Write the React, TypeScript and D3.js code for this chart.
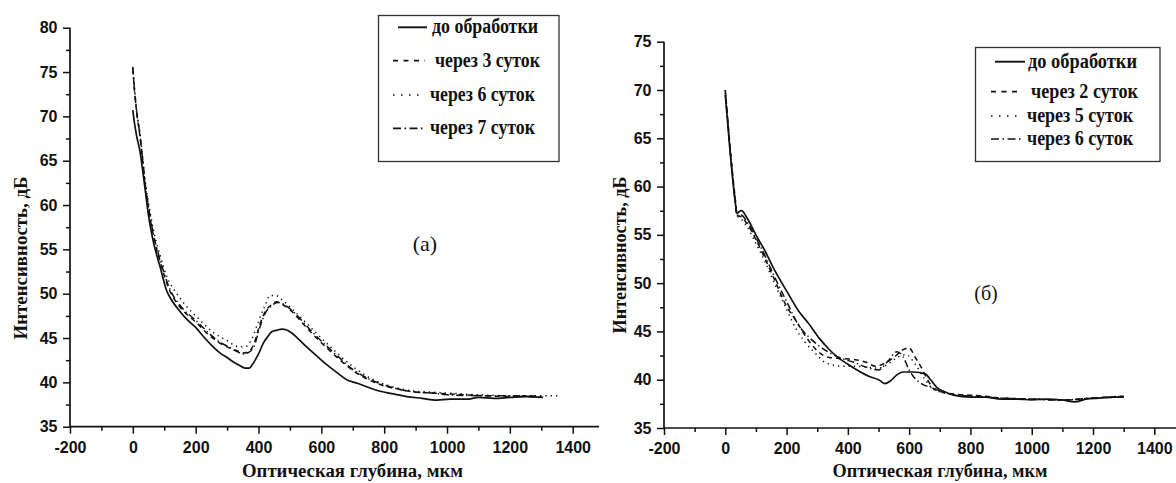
import React, { useEffect, useRef } from 'react';
import * as d3 from 'd3';

// ---------- tick values ----------
const xTicks = [-200, 0, 200, 400, 600, 800, 1000, 1200, 1400];
const xMinorTicks = [-100, 100, 300, 500, 700, 900, 1100, 1300];
const yTicksA = [35, 40, 45, 50, 55, 60, 65, 70, 75, 80];
const yMinorA = [37.5, 42.5, 47.5, 52.5, 57.5, 62.5, 67.5, 72.5, 77.5];
const yTicksB = [35, 40, 45, 50, 55, 60, 65, 70, 75];
const yMinorB = [37.5, 42.5, 47.5, 52.5, 57.5, 62.5, 67.5, 72.5];

// ---------- panel (а) data ----------
const labelsA = ['до обработки', 'через 3 суток', 'через 6 суток', 'через 7 суток'];
const a0x = [0, 5, 12, 23, 31, 39, 50, 65, 87, 108, 118, 150, 172, 200, 224, 250, 278, 300, 320, 340, 357, 370, 384, 400, 415, 430, 442, 460, 474, 490, 500, 530, 553, 585, 617, 650, 681, 715, 744, 787, 830, 872, 920, 967, 1010, 1063, 1100, 1150, 1200, 1250, 1306];
const a0y = [70.7, 69.3, 67.8, 66.0, 64.0, 61.8, 58.8, 55.9, 53.0, 50.3, 49.6, 48.0, 47.1, 46.2, 45.2, 44.2, 43.3, 42.8, 42.3, 41.9, 41.6, 41.6, 42.2, 43.2, 44.4, 45.2, 45.7, 45.9, 46.0, 45.9, 45.7, 44.8, 44.0, 43.0, 42.0, 41.1, 40.3, 39.9, 39.5, 39.0, 38.7, 38.4, 38.2, 38.0, 38.1, 38.1, 38.3, 38.2, 38.3, 38.4, 38.3];
const a1x = [0, 5, 12, 23, 31, 39, 50, 65, 87, 118, 150, 200, 250, 278, 300, 330, 352, 370, 385, 405, 420, 440, 458, 475, 500, 532, 560, 590, 617, 660, 702, 745, 800, 851, 900, 957, 1000, 1050, 1116, 1200, 1250, 1300];
const a1y = [75.4, 73.0, 70.5, 67.7, 65.0, 62.3, 59.6, 56.6, 53.6, 50.3, 48.5, 46.8, 45.1, 44.4, 44.0, 43.6, 43.3, 43.5, 44.3, 46.6, 47.9, 48.7, 49.1, 48.8, 48.2, 47.0, 45.9, 44.8, 43.9, 42.5, 41.3, 40.4, 39.6, 39.2, 38.9, 38.8, 38.7, 38.6, 38.5, 38.4, 38.5, 38.4];
const a2x = [0, 5, 12, 23, 31, 39, 50, 65, 87, 110, 140, 170, 203, 250, 300, 340, 363, 380, 400, 420, 437, 455, 475, 500, 532, 580, 638, 700, 750, 800, 850, 900, 950, 1000, 1100, 1200, 1300, 1360];
const a2y = [75.6, 73.3, 70.8, 68.0, 65.5, 62.8, 60.2, 57.3, 54.3, 51.8, 50.0, 48.6, 47.4, 45.8, 44.7, 44.0, 44.1, 45.0, 46.9, 48.6, 49.8, 49.8, 49.3, 48.5, 47.4, 45.7, 43.7, 41.8, 40.6, 39.8, 39.3, 39.0, 38.9, 38.8, 38.6, 38.5, 38.5, 38.5];
const a3x = [0, 5, 12, 23, 31, 39, 50, 65, 87, 118, 150, 200, 250, 278, 300, 330, 352, 370, 385, 405, 420, 440, 460, 475, 500, 532, 560, 590, 617, 660, 702, 745, 800, 850, 900, 950, 1000, 1100, 1200, 1300];
const a3y = [75.5, 73.1, 70.6, 67.8, 65.2, 62.5, 59.8, 56.8, 53.8, 50.5, 48.7, 47.0, 45.3, 44.5, 44.1, 43.5, 43.2, 43.4, 44.0, 46.3, 47.7, 48.6, 49.0, 48.9, 48.3, 47.2, 46.1, 45.0, 44.1, 42.7, 41.4, 40.5, 39.7, 39.2, 38.9, 38.8, 38.6, 38.5, 38.5, 38.3];

// ---------- panel (б) data ----------
const labelsB = ['до обработки', 'через 2 суток', 'через 5 суток', 'через 6 суток'];
const b0x = [0, 8, 16, 25, 34, 38, 45, 53, 70, 100, 130, 160, 200, 244, 270, 309, 340, 364, 400, 430, 472, 500, 521, 540, 560, 580, 613, 652, 670, 690, 720, 745, 800, 850, 900, 950, 1000, 1050, 1100, 1140, 1180, 1220, 1260, 1300];
const b0y = [69.5, 66.5, 63.5, 60.5, 58.0, 57.2, 57.4, 57.5, 56.8, 55.0, 53.3, 51.4, 49.2, 46.9, 45.9, 44.2, 43.1, 42.4, 41.6, 41.0, 40.3, 40.0, 39.6, 39.9, 40.5, 40.8, 40.8, 40.6, 40.0, 39.2, 38.7, 38.4, 38.2, 38.2, 38.0, 38.0, 37.9, 38.0, 37.9, 37.7, 38.0, 38.1, 38.2, 38.2];
const b1x = [0, 8, 16, 25, 34, 38, 50, 70, 100, 130, 160, 200, 233, 260, 300, 340, 380, 420, 460, 490, 520, 550, 575, 600, 620, 641, 660, 679, 700, 750, 800, 850, 900, 1000, 1100, 1200, 1300];
const b1y = [70.0, 67.0, 64.0, 61.0, 58.3, 57.0, 56.9, 56.2, 54.5, 52.5, 50.4, 47.6, 46.0, 44.6, 43.0, 42.3, 42.2, 42.1, 41.8, 41.4, 41.7, 42.3, 43.0, 43.3, 42.3, 41.2, 40.0, 39.1, 38.8, 38.5, 38.4, 38.3, 38.1, 38.0, 37.9, 38.1, 38.3];
const b2x = [0, 8, 16, 25, 34, 38, 50, 70, 100, 130, 160, 200, 230, 260, 298, 320, 342, 380, 420, 460, 500, 530, 560, 590, 620, 650, 680, 720, 800, 900, 1000, 1100, 1200, 1300];
const b2y = [70.0, 66.8, 63.8, 60.8, 58.1, 57.0, 56.7, 55.9, 54.1, 52.2, 50.0, 47.3, 45.3, 43.9, 42.6, 41.9, 41.6, 41.4, 41.4, 41.3, 41.2, 41.6, 42.3, 42.6, 41.6, 40.1, 39.0, 38.6, 38.3, 38.1, 38.0, 37.9, 38.1, 38.3];
const b3x = [0, 8, 16, 25, 34, 38, 50, 70, 100, 130, 160, 200, 240, 270, 298, 340, 380, 420, 460, 500, 530, 560, 580, 600, 620, 640, 680, 720, 800, 900, 1000, 1100, 1200, 1300];
const b3y = [69.8, 66.7, 63.6, 60.6, 58.0, 57.0, 57.1, 56.4, 54.7, 52.8, 50.7, 48.1, 45.6, 44.5, 43.7, 42.8, 42.2, 41.8, 41.3, 41.0, 41.9, 42.9, 42.4, 41.0, 40.1, 39.6, 39.1, 38.6, 38.3, 38.1, 38.0, 37.9, 38.1, 38.2];

const dashes = [null, '5,4', '1.3,4', '7,3,1.3,3'];
const legendDashes = [null, '5,5.5', '1.5,6.5', '8,3.5,1.5,3.5'];

type Panel = {
  x0: number; x1: number; xAxisEnd: number;
  yBottom: number; yTop: number; yMax: number;
  yTicks: number[]; yMinor: number[];
  series: [number[], number[]][];
  labels: string[];
  tag: string; tagX: number; tagY: number; tagSize: number;
  yTitleX: number; yTitleY: number; yTitleLen: number; xTitleX: number; xTitleLen: number;
  legend: { left: number; top: number; right: number; bottom: number; rows: number[]; sampleX0: number[]; sampleX1: number[]; textX: number[]; textLen: number[] };
};

const panels: Panel[] = [
  {
    x0: 70, x1: 572.7, xAxisEnd: 599, yBottom: 426.7, yTop: 27.7, yMax: 80,
    yTicks: yTicksA, yMinor: yMinorA,
    series: [[a0x, a0y], [a1x, a1y], [a2x, a2y], [a3x, a3y]],
    labels: labelsA,
    tag: '(а)', tagX: 425, tagY: 243, tagSize: 22,
    yTitleX: 20, yTitleY: 258, yTitleLen: 163, xTitleX: 352.5, xTitleLen: 221,
    legend: { left: 378.5, top: 15.5, right: 559, bottom: 161.5, rows: [27.3, 60.7, 95, 128.3],
      sampleX0: [398, 393, 393, 393], sampleX1: [427, 425, 421, 425], textX: [432, 435, 430, 430],
      textLen: [106, 105, 105, 105] },
  },
  {
    x0: 664, x1: 1154.3, xAxisEnd: 1176, yBottom: 428, yTop: 41.7, yMax: 75,
    yTicks: yTicksB, yMinor: yMinorB,
    series: [[b0x, b0y], [b1x, b1y], [b2x, b2y], [b3x, b3y]],
    labels: labelsB,
    tag: '(б)', tagX: 986, tagY: 293, tagSize: 20,
    yTitleX: 619, yTitleY: 255, yTitleLen: 157, xTitleX: 940, xTitleLen: 215,
    legend: { left: 975.5, top: 47.5, right: 1160, bottom: 161.5, rows: [61.7, 91.7, 116, 139],
      sampleX0: [995, 991, 991, 991], sampleX1: [1025, 1021, 1018, 1022], textX: [1028, 1031, 1027, 1027],
      textLen: [109, 107, 106, 106] },
  },
];

const serif = '"Liberation Serif", "Times New Roman", serif';

export default function App() {
  const ref = useRef<SVGSVGElement | null>(null);

  useEffect(() => {
    const svg = d3.select(ref.current);
    svg.selectAll('*').remove();

    panels.forEach((p) => {
      const x = d3.scaleLinear().domain([-200, 1400]).range([p.x0, p.x1]);
      const y = d3.scaleLinear().domain([35, p.yMax]).range([p.yBottom, p.yTop]);
      const g = svg.append('g');
      const fmt = (d: d3.NumberValue) => String(d);

      // x axis
      const gx = g.append('g').attr('transform', `translate(0,${p.yBottom})`);
      gx.call(d3.axisBottom(x).tickValues(xTicks).tickSize(7).tickPadding(7.5).tickSizeOuter(0).tickFormat(fmt));
      gx.select('.domain').remove();
      const gxm = g.append('g').attr('transform', `translate(0,${p.yBottom})`);
      gxm.call(d3.axisBottom(x).tickValues(xMinorTicks).tickSize(4).tickFormat(() => ''));
      gxm.select('.domain').remove();
      g.append('line').attr('x1', p.x0).attr('x2', p.xAxisEnd).attr('y1', p.yBottom).attr('y2', p.yBottom)
        .attr('stroke', '#111').attr('stroke-width', 1.7);

      // y axis
      const gy = g.append('g').attr('transform', `translate(${p.x0},0)`);
      gy.call(d3.axisLeft(y).tickValues(p.yTicks).tickSize(7).tickPadding(5.5).tickSizeOuter(0).tickFormat(fmt));
      gy.select('.domain').remove();
      const gym = g.append('g').attr('transform', `translate(${p.x0},0)`);
      gym.call(d3.axisLeft(y).tickValues(p.yMinor).tickSize(4).tickFormat(() => ''));
      gym.select('.domain').remove();
      g.append('line').attr('x1', p.x0).attr('x2', p.x0).attr('y1', p.yTop).attr('y2', p.yBottom)
        .attr('stroke', '#111').attr('stroke-width', 1.7);

      g.selectAll('.tick line').attr('stroke', '#111').attr('stroke-width', 1.5);
      g.selectAll('.tick text')
        .attr('font-family', '"Liberation Sans", Arial, sans-serif')
        .attr('font-weight', 'bold').attr('font-size', 16).attr('fill', '#111');

      // curves
      const line = d3.line<[number, number]>().x((d) => x(d[0])).y((d) => y(d[1])).curve(d3.curveMonotoneX);
      p.series.forEach(([xs, ys], i) => {
        const pts = xs.map((v, k) => [v, ys[k]] as [number, number]);
        const path = g.append('path').attr('d', line(pts) as string).attr('fill', 'none')
          .attr('stroke', '#111').attr('stroke-width', i === 0 ? 1.7 : 1.5);
        if (dashes[i]) path.attr('stroke-dasharray', dashes[i] as string);
      });

      // legend
      const L = p.legend;
      g.append('rect').attr('x', L.left).attr('y', L.top).attr('width', L.right - L.left).attr('height', L.bottom - L.top)
        .attr('fill', 'white').attr('stroke', '#333').attr('stroke-width', 1.3);
      p.labels.forEach((lab, i) => {
        const s = g.append('line').attr('x1', L.sampleX0[i]).attr('x2', L.sampleX1[i])
          .attr('y1', L.rows[i]).attr('y2', L.rows[i]).attr('stroke', '#111').attr('stroke-width', i === 0 ? 1.9 : 1.7);
        if (legendDashes[i]) s.attr('stroke-dasharray', legendDashes[i] as string);
        g.append('text').attr('x', L.textX[i]).attr('y', L.rows[i]).attr('dy', '0.3em')
          .attr('font-family', serif).attr('font-weight', 'bold')
          .attr('font-size', 20).attr('textLength', L.textLen[i]).attr('lengthAdjust', 'spacingAndGlyphs')
          .attr('fill', '#111').text(lab);
      });

      // tag
      g.append('text').attr('x', p.tagX).attr('y', p.tagY).attr('dy', '0.35em').attr('text-anchor', 'middle')
        .attr('font-family', serif).attr('font-size', p.tagSize)
        .attr('fill', '#111').text(p.tag);

      // axis titles
      g.append('text').attr('x', p.xTitleX - p.xTitleLen / 2).attr('y', 471).attr('dy', '0.35em')
        .attr('font-family', serif).attr('font-weight', 'bold')
        .attr('font-size', 18).attr('textLength', p.xTitleLen).attr('lengthAdjust', 'spacingAndGlyphs')
        .attr('fill', '#111').text('Оптическая глубина, мкм');
      g.append('text').attr('transform', `translate(${p.yTitleX},${p.yTitleY + p.yTitleLen / 2}) rotate(-90)`).attr('dy', '0.35em')
        .attr('font-family', serif).attr('font-weight', 'bold')
        .attr('font-size', 19).attr('textLength', p.yTitleLen).attr('lengthAdjust', 'spacingAndGlyphs')
        .attr('fill', '#111').text('Интенсивность, дБ');
    });
  }, []);

  return (
    <svg ref={ref} width={1176} height={483}
      style={{ position: 'absolute', left: 0, top: 0, background: 'white', display: 'block' }} />
  );
}
